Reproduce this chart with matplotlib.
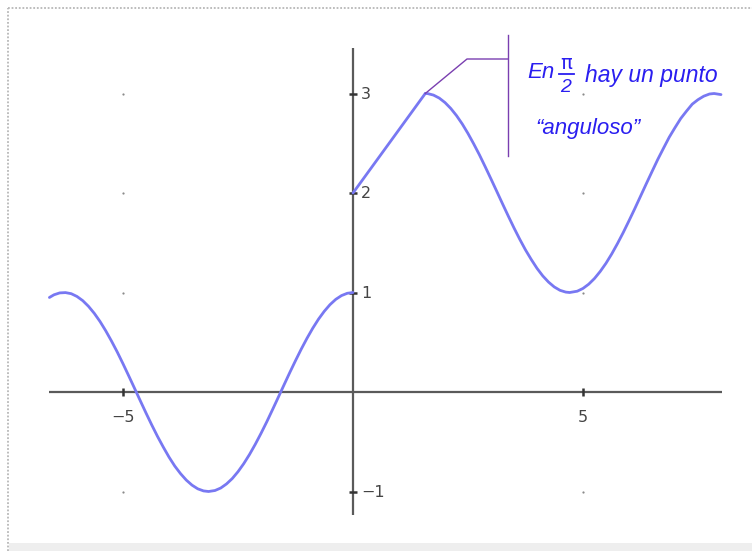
import matplotlib
matplotlib.use("Agg")
import matplotlib.pyplot as plt
from matplotlib.lines import Line2D
from matplotlib.patches import Rectangle

# left branch (x < 0)
x_left = [-6.6, -6.5, -6.375, -6.25, -6.125, -6.0, -5.875, -5.75, -5.625, -5.5,
          -5.375, -5.25, -5.125, -5.0, -4.875, -4.75, -4.625, -4.5, -4.375, -4.25,
          -4.125, -4.0, -3.875, -3.75, -3.625, -3.5, -3.375, -3.25, -3.14, -3.0,
          -2.875, -2.75, -2.625, -2.5, -2.375, -2.25, -2.125, -2.0, -1.875, -1.75,
          -1.625, -1.5, -1.375, -1.25, -1.125, -1.0, -0.875, -0.75, -0.625, -0.5,
          -0.375, -0.25, -0.125, 0.0]
y_left = [0.950, 0.977, 0.996, 0.999, 0.988, 0.960, 0.918, 0.861, 0.791, 0.709,
          0.615, 0.512, 0.402, 0.284, 0.162, 0.038, -0.087, -0.211, -0.331, -0.446,
          -0.553, -0.654, -0.744, -0.820, -0.885, -0.936, -0.973, -0.994, -1.0, -0.990,
          -0.965, -0.924, -0.870, -0.801, -0.720, -0.628, -0.526, -0.416, -0.300, -0.178,
          -0.054, 0.071, 0.195, 0.315, 0.431, 0.540, 0.641, 0.732, 0.811, 0.878,
          0.931, 0.969, 0.992, 1.0]

# straight piece between 0 and pi/2
x_mid = [0.0, 1.571]
y_mid = [2.0, 3.0]

# right branch (x > pi/2)
x_right = [1.571, 1.625, 1.75, 1.875, 2.0, 2.125, 2.25, 2.375, 2.5, 2.625,
           2.75, 2.875, 3.0, 3.125, 3.25, 3.375, 3.5, 3.625, 3.75, 3.875,
           4.0, 4.125, 4.25, 4.375, 4.5, 4.625, 4.71, 4.875, 5.0, 5.125,
           5.25, 5.375, 5.5, 5.625, 5.75, 5.875, 6.0, 6.125, 6.25, 6.375,
           6.5, 6.625, 6.75, 6.875, 7.0, 7.125, 7.25, 7.375, 7.5, 7.625,
           7.75, 7.85, 8.0]
y_right = [3.0, 2.999, 2.984, 2.954, 2.909, 2.850, 2.778, 2.694, 2.598, 2.493,
           2.382, 2.263, 2.141, 2.017, 1.892, 1.769, 1.649, 1.535, 1.428, 1.332,
           1.243, 1.167, 1.105, 1.056, 1.022, 1.004, 1.0, 1.013, 1.041, 1.084,
           1.141, 1.212, 1.294, 1.388, 1.492, 1.603, 1.721, 1.842, 1.967, 2.092,
           2.215, 2.337, 2.450, 2.561, 2.657, 2.749, 2.823, 2.893, 2.938, 2.973,
           2.995, 3.0, 2.989]

x_ticks = [-5, 5]
x_tick_labels = ["\u22125", "5"]
y_ticks = [-1, 1, 2, 3]
y_tick_labels = ["\u22121", "1", "2", "3"]

x_axis_span = (-6.6, 8.02)
y_axis_span = (-1.24, 3.46)
corner = (1.571, 3.0)

CURVE = "#7878f2"
AXIS = "#5a5a5a"
NOTE_LINE = "#7a3fb0"
NOTE_TEXT = "#2a1ef0"

fig = plt.figure(figsize=(7.52, 5.51), dpi=100)
ax = fig.add_axes([0, 0, 1, 1])
ax.set_xlim(-353 / 46, (752 - 353) / 46)
ax.set_ylim((392 - 551) / 99.5, 392 / 99.5)
ax.axis("off")

# axes
ax.hlines(0, *x_axis_span, color=AXIS, lw=1.6, zorder=2)
ax.vlines(0, *y_axis_span, color=AXIS, lw=1.6, zorder=2)

# grid dots
for gx in x_ticks:
    for gy in y_ticks:
        ax.plot(gx, gy, marker="o", ms=1.6, color="#8a8a8a", mec="none", zorder=1)

# ticks + labels
for tx, lab in zip(x_ticks, x_tick_labels):
    ax.plot(tx, 0, marker="|", ms=6, mew=1.8, color="#333333", zorder=3)
    ax.text(tx, -0.26, lab, ha="center", va="center", fontsize=11.5,
            color="#444444", family="DejaVu Sans")
for ty, lab in zip(y_ticks, y_tick_labels):
    ax.plot(0, ty, marker="_", ms=6, mew=1.8, color="#333333", zorder=3)
    ax.text(0.17, ty - 0.01, lab, ha="left", va="center", fontsize=11.5,
            color="#444444", family="DejaVu Sans")

# function
for xs, ys in [(x_left, y_left), (x_mid, y_mid), (x_right, y_right)]:
    ax.plot(xs, ys, color=CURVE, lw=2.0, solid_capstyle="round",
            solid_joinstyle="round", zorder=4)

# annotation callout (pixel-based placement)
def px(x, y):
    return ((x - 353) / 46, (392 - y) / 99.5)

elbow = px(467, 59)
bar_x = px(508, 0)[0]
ax.plot([corner[0], elbow[0], bar_x], [corner[1], elbow[1], elbow[1]],
        color=NOTE_LINE, lw=1.0, zorder=5)
ax.plot([bar_x, bar_x], [px(0, 35)[1], px(0, 156)[1]], color=NOTE_LINE, lw=1.0, zorder=5)

tkw = dict(color=NOTE_TEXT, style="italic", family="Liberation Sans", zorder=6)
ax.text(*px(527, 78), "En", ha="left", va="baseline", fontsize=16, **tkw)
ax.text(*px(566, 69), "\u03c0", ha="center", va="baseline", fontsize=14,
        color=NOTE_TEXT, family="DejaVu Sans", zorder=6)
ax.plot([px(559, 0)[0], px(574, 0)[0]], [px(0, 74)[1]] * 2, color=NOTE_TEXT, lw=1.3)
ax.text(*px(566, 92), "2", ha="center", va="baseline", fontsize=14, **tkw)
ax.text(*px(585, 82), "hay un punto", ha="left", va="baseline", fontsize=16.5, **tkw)
ax.text(*px(535, 134), "\u201canguloso\u201d", ha="left", va="baseline", fontsize=16, **tkw)

# screenshot frame
fig.add_artist(Line2D([8 / 752, 8 / 752], [0, 1 - 8 / 551], transform=fig.transFigure,
                      color="#b8b8b8", lw=1.3, ls=(0, (1, 1))))
fig.add_artist(Line2D([8 / 752, 1], [1 - 8 / 551] * 2, transform=fig.transFigure,
                      color="#b8b8b8", lw=1.3, ls=(0, (1, 1))))
fig.add_artist(Rectangle((9 / 752, 0), 1, 8 / 551, transform=fig.transFigure,
                         color="#eeeeee", lw=0))

fig.savefig("out.png", dpi=100)
